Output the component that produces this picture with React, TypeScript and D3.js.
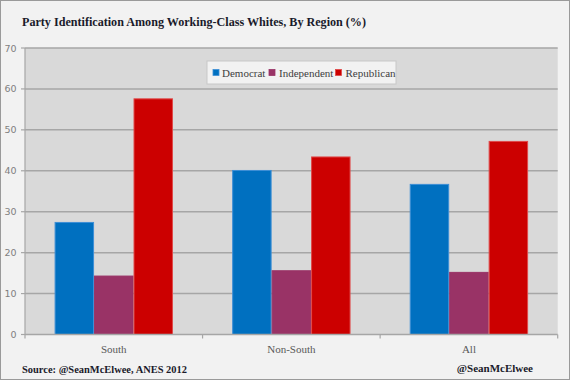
import React from "react";
import * as d3 from "d3";

const categories = ["South", "Non-South", "All"];
const seriesNames = ["Democrat", "Independent", "Republican"];
const democrat = [27.5, 40.2, 36.8];
const independent = [14.4, 15.7, 15.3];
const republican = [57.7, 43.5, 47.3];
const yTicks = [0, 10, 20, 30, 40, 50, 60, 70];

const colors = ["#0070c0", "#993366", "#cc0000"];
const strokes = ["#3d8fd6", "#993366", "#e04848"];

export default function App() {
  const W = 570, H = 380;
  const left = 25, right = 557.7, top = 48, bottom = 334.5;
  const series = [democrat, independent, republican];
  const x0 = d3.scaleBand<string>().domain(categories).range([left, right]).paddingInner(0).paddingOuter(0);
  const bw = x0.bandwidth();
  const barW = bw / 4.5;
  const y = d3.scaleLinear().domain([0, 70]).range([bottom, top]);
  const x1 = d3.scaleBand<string>().domain(seriesNames).range([0.75 * barW, 3.75 * barW]).padding(0);
  const serif = "'Liberation Serif', 'DejaVu Serif', serif";
  const sans = "'DejaVu Sans', Verdana, sans-serif";

  const legendX = 207, legendY = 61;
  const legendItems = [
    { name: "Democrat", mx: 215.5, tx: 222 },
    { name: "Independent", mx: 271.5, tx: 279 },
    { name: "Republican", mx: 338, tx: 345.5 },
  ];

  return (
    <svg width={W} height={H} style={{ position: "absolute", left: 0, top: 0 }}>
      <rect x={0.5} y={0.5} width={W - 1} height={H - 1} fill="#f2f2f2" stroke="#9a9a9a" strokeWidth={1} />
      <text x={22} y={26} fontFamily={serif} fontWeight="bold" fontSize={12.6} fill="#1a1a2a" textLength={344} lengthAdjust="spacingAndGlyphs">
        Party Identification Among Working-Class Whites, By Region (%)
      </text>
      <rect x={left} y={top} width={right - left} height={bottom - top} fill="#d9d9d9" />
      {yTicks.map((t) => (
        <g key={t}>
          {t > 0 && (
            <line x1={left} x2={right} y1={y(t)} y2={y(t)} stroke="#a6a6a6" strokeWidth={1.5} />
          )}
          <line x1={left - 4} x2={left} y1={y(t)} y2={y(t)} stroke="#a6a6a6" strokeWidth={1.2} />
          <text x={16.5} y={y(t) + 3.5} textAnchor="end" fontFamily={sans} fontSize={9.5} fill="#7f7f7f">
            {t}
          </text>
        </g>
      ))}
      <line x1={left} x2={left} y1={top} y2={bottom} stroke="#a6a6a6" strokeWidth={1.2} />
      {categories.map((c, i) =>
        series.map((s, j) => {
          const bx = (x0(c) as number) + (x1(seriesNames[j]) as number);
          return (
            <rect
              key={c + j}
              x={bx + 0.5}
              y={y(s[i]) + 0.5}
              width={x1.bandwidth() - 1}
              height={bottom - y(s[i]) - 0.5}
              fill={colors[j]}
              stroke={strokes[j]}
              strokeWidth={1}
            />
          );
        })
      )}
      <line x1={left} x2={right} y1={bottom} y2={bottom} stroke="#a6a6a6" strokeWidth={1.5} />
      {[...categories.map((c) => x0(c) as number), right].map((v, i) => (
        <line key={i} x1={v} x2={v} y1={bottom} y2={bottom + 4} stroke="#a6a6a6" strokeWidth={1.2} />
      ))}
      {categories.map((c) => (
        <text
          key={c}
          x={(x0(c) as number) + bw / 2}
          y={353}
          textAnchor="middle"
          fontFamily={serif}
          fontSize={11}
          fill="#595959"
        >
          {c}
        </text>
      ))}
      <rect x={legendX} y={legendY} width={189} height={23} fill="#f2f2f2" stroke="#c8c8c8" strokeWidth={1} />
      {legendItems.map((it, j) => (
        <g key={it.name}>
          <rect x={it.mx - 2.5} y={69.5} width={6} height={6} fill={colors[j]} stroke={strokes[j]} strokeWidth={0.8} />
          <text x={it.tx} y={76.5} fontFamily={serif} fontSize={11} fill="#404040">
            {it.name}
          </text>
        </g>
      ))}
      <text x={22} y={373} fontFamily={serif} fontWeight="bold" fontSize={10.8} fill="#1a1a2a" textLength={165} lengthAdjust="spacingAndGlyphs">
        Source: @SeanMcElwee, ANES 2012
      </text>
      <text x={533} y={372} textAnchor="end" fontFamily={serif} fontWeight="bold" fontSize={11} fill="#1a1a2a">
        @SeanMcElwee
      </text>
    </svg>
  );
}
